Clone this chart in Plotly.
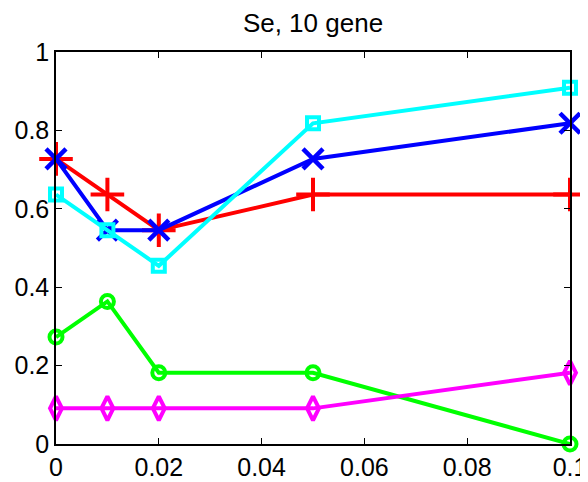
import plotly.graph_objects as go

x_vals = [0, 0.01, 0.02, 0.05, 0.1]
red_vals = [8/11, 7/11, 6/11, 7/11, 7/11]
blue_vals = [8/11, 6/11, 6/11, 8/11, 9/11]
cyan_vals = [7/11, 6/11, 5/11, 9/11, 10/11]
green_vals = [3/11, 4/11, 2/11, 2/11, 0]
magenta_vals = [1/11, 1/11, 1/11, 1/11, 2/11]

x_ticks = [0, 0.02, 0.04, 0.06, 0.08, 0.1]
x_tick_text = ["0", "0.02", "0.04", "0.06", "0.08", "0.1"]
y_ticks = [0, 0.2, 0.4, 0.6, 0.8, 1]
y_tick_text = ["0", "0.2", "0.4", "0.6", "0.8", "1"]

series = [
    (red_vals, "#ff0000", "cross-thin-open", 24, 4),
    (blue_vals, "#0000ff", "x-thin-open", 20, 4.5),
    (cyan_vals, "#00ffff", "square-open", 12, 4),
    (green_vals, "#00ff00", "circle-open", 13, 4),
    (magenta_vals, "#ff00ff", "diamond-tall-open", 17, 4),
]

fig = go.Figure()
for vals, color, sym, size, lw in series:
    fig.add_trace(go.Scatter(
        x=x_vals, y=vals, mode="lines+markers",
        line=dict(color=color, width=4),
        marker=dict(symbol=sym, size=size, color=color, line=dict(color=color, width=lw)),
        cliponaxis=False, showlegend=False,
    ))

axis_common = dict(
    showgrid=False, zeroline=False, showline=True, linecolor="black", linewidth=1.5,
    mirror="ticks", ticks="inside", ticklen=6, tickcolor="black", tickwidth=1,
    tickfont=dict(family="Liberation Sans", size=25, color="black"),
    automargin=False,
)
fig.update_xaxes(range=[0, 0.1], tickvals=x_ticks, ticktext=x_tick_text, **axis_common)
fig.update_yaxes(range=[0, 1], tickvals=y_ticks, ticktext=y_tick_text, **axis_common)

fig.update_layout(
    width=580, height=474,
    margin=dict(l=48, r=18, t=44, b=38),
    plot_bgcolor="white", paper_bgcolor="white",
    title=dict(text="Se, 10 gene", x=0.5, xanchor="center", xref="paper",
               y=0.968, yref="container", yanchor="middle",
               font=dict(family="Liberation Sans", size=26, color="black")),
)

fig.write_html("out.html")
